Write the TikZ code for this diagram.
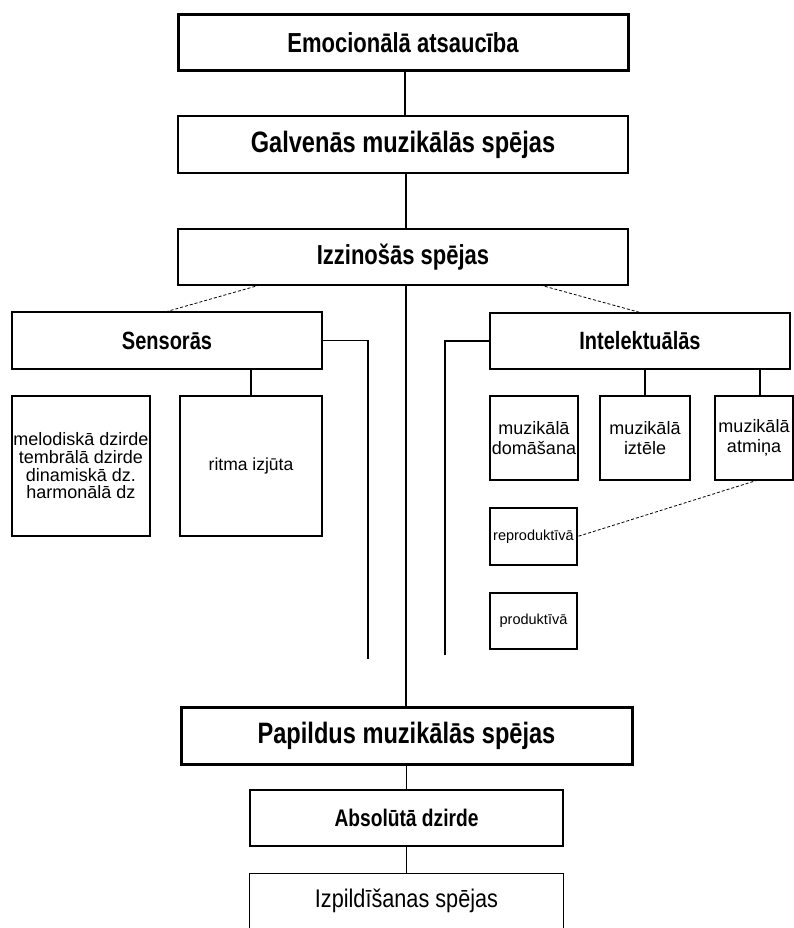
\documentclass[tikz,border=0pt]{standalone}
\usepackage{fontspec}
\setmainfont{Liberation Sans}
\newfontfamily\headf{Liberation Sans}[FakeStretch=0.8]
\newfontfamily\izpf{Liberation Sans}[FakeStretch=0.85]
\begin{document}
\begin{tikzpicture}[x=1pt,y=-1pt,
  thickbox/.style={draw, line width=3pt, inner sep=0pt, align=center},
  thinbox/.style={draw, line width=1.1pt, inner sep=0pt, align=center},
  conn/.style={line width=1.4pt},
  bracket/.style={line width=1.2pt},
  dline/.style={line width=0.8pt, densely dashed},
  hbig/.style={font=\headf\bfseries\fontsize{27.5}{29}\selectfont},
  hlarge/.style={font=\headf\bfseries\fontsize{29.5}{31}\selectfont},
  hmid/.style={font=\headf\bfseries\fontsize{25}{27}\selectfont},
  hsub/.style={font=\headf\bfseries\fontsize{24}{26}\selectfont},
  stext/.style={font=\fontsize{18}{19.5}\selectfont},
  ttext/.style={font=\fontsize{14.5}{16}\selectfont}]
\useasboundingbox[fill=white] (0,0) rectangle (794,928);

% main column
\node[thickbox, hbig, minimum width=450, minimum height=56] (emo) at (403,43) {Emocionālā atsaucība};
\node[thinbox, hlarge, minimum width=450, minimum height=57] (galv) at (403,144.5) {Galvenās muzikālās spējas};
\node[thinbox, hbig, minimum width=450, minimum height=56] (izz) at (403,257) {Izzinošās spējas};

% branches
\node[thinbox, hmid, minimum width=310, minimum height=57] (sens) at (167,340.5) {Sensorās};
\node[thinbox, hmid, minimum width=300, minimum height=56] (intel) at (640,341) {Intelektuālās};

% sensory sub-boxes
\node[thinbox, font=\fontsize{18}{17.7}\selectfont, minimum width=138, minimum height=140] (mel) at (81,466) {melodiskā dzirde\\tembrālā dzirde\\dinamiskā dz.\\harmonālā dz};
\node[thinbox, font=\fontsize{17.5}{19}\selectfont, minimum width=142, minimum height=140] (ritma) at (251,466) {ritma izjūta};

% intellectual sub-boxes
\node[thinbox, stext, minimum width=88, minimum height=84] (dom) at (534,438) {muzikālā\\domāšana};
\node[thinbox, stext, minimum width=90, minimum height=84] (izt) at (645,438) {muzikālā\\iztēle};
\node[thinbox, stext, minimum width=78, minimum height=84] (atm) at (754,438) {muzikālā\\atmiņa};
\node[thinbox, ttext, minimum width=87, minimum height=57] (repro) at (533.5,536.5) {reproduktīvā};
\node[thinbox, ttext, minimum width=87, minimum height=56] (prod) at (533.5,621) {produktīvā};

% additional abilities
\node[thickbox, hlarge, minimum width=451, minimum height=57] (pap) at (406.5,735.5) {Papildus muzikālās spējas};
\node[thinbox, hsub, minimum width=313, minimum height=56] (abs) at (406.5,818) {Absolūtā dzirde};
\node[inner sep=0pt, minimum width=313, minimum height=54, font=\izpf\fontsize{25.5}{27}\selectfont] (izp) at (406.5,901) {Izpildīšanas spējas};
\draw[line width=1.1pt] (izp.south west) -- (izp.north west) -- (izp.north east) -- (izp.south east);

% connectors of the main column
\draw[conn] (emo.south -| 405,0) -- (galv.north -| 405,0);
\draw[conn] (galv.south -| 406,0) -- (izz.north -| 406,0);
\draw[conn] (izz.south -| 406,0) -- (pap.north -| 406,0);
\draw[conn] (pap.south) -- (abs.north);
\draw[conn] (abs.south) -- (izp.north);

% dashed links from Izzinošās to the branches
\coordinate (izzL) at (260,285);
\coordinate (izzR) at (540,285);
\draw[dline] (izzL) -- (sens.north);
\draw[dline] (izzR) -- (intel.north);

% sensory connector
\draw[conn, line width=1.1pt] (sens.south -| ritma.north) -- (ritma.north);

% intellectual connectors
\draw[conn, line width=1.1pt] (intel.south -| izt.north) -- (izt.north);
\coordinate (atmTop) at (760,396);
\draw[conn, line width=1.1pt] (intel.south -| atmTop) -- (atmTop);
\coordinate (atmBot) at (758,480);
\draw[dline] (atmBot) -- (repro.east);

% side brackets
\coordinate (lb) at (368,659);
\coordinate (rb) at (445,655);
\draw[bracket] (sens.east) -| (lb);
\draw[bracket] (intel.west) -| (rb);
\end{tikzpicture}
\end{document}
